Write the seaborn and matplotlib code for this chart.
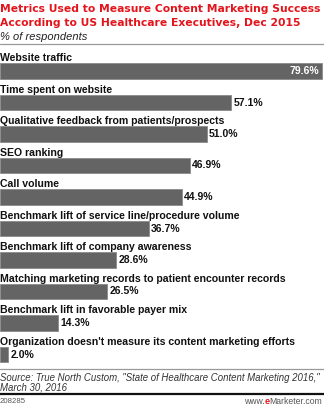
import matplotlib
matplotlib.use("Agg")
import matplotlib.pyplot as plt
import seaborn as sns
import pandas as pd
from matplotlib.lines import Line2D

categories = [
    "Website traffic",
    "Time spent on website",
    "Qualitative feedback from patients/prospects",
    "SEO ranking",
    "Call volume",
    "Benchmark lift of service line/procedure volume",
    "Benchmark lift of company awareness",
    "Matching marketing records to patient encounter records",
    "Benchmark lift in favorable payer mix",
    "Organization doesn't measure its content marketing efforts",
]
values = [79.6, 57.1, 51.0, 46.9, 44.9, 36.7, 28.6, 26.5, 14.3, 2.0]
value_labels = ["79.6%", "57.1%", "51.0%", "46.9%", "44.9%", "36.7%", "28.6%", "26.5%", "14.3%", "2.0%"]

df = pd.DataFrame({"metric": categories, "pct": values})

sns.set_theme(style="white")
plt.rcParams["font.family"] = ["Liberation Sans", "DejaVu Sans"]

W, H = 324, 407
fig = plt.figure(figsize=(W / 100, H / 100), dpi=100)

def fy(py):
    return 1 - py / H

ax_top, ax_bot = 55.25, 370.25
ax = fig.add_axes([0, fy(ax_bot), 1, (ax_bot - ax_top) / H])
sns.barplot(data=df, x="pct", y="metric", orient="h", color="#646464",
            width=0.49, saturation=1, ax=ax, edgecolor="#8a8a8a", linewidth=0.6)
ax.set_xlim(0, 80)
ax.set_ylim(9.5, -0.5)
ax.axis("off")

for i, (cat, v, lab) in enumerate(zip(categories, values, value_labels)):
    ax.text(0.0, i - 0.41, cat, ha="left", va="center", fontsize=7.6,
            fontweight="bold", color="#111111")
    if v > 70:
        ax.text(v - 0.8, i, lab, ha="right", va="center", fontsize=7.5,
                fontweight="bold", color="white")
    else:
        ax.text(v + 0.6, i, lab, ha="left", va="center", fontsize=7.5,
                fontweight="bold", color="#111111")

# Title and subtitle
fig.text(0.0, fy(9.5), "Metrics Used to Measure Content Marketing Success",
         ha="left", va="center", fontsize=7.75, fontweight="bold", color="#e4141b",
         family="DejaVu Sans")
fig.text(0.0, fy(23.5), "According to US Healthcare Executives, Dec 2015",
         ha="left", va="center", fontsize=7.75, fontweight="bold", color="#e4141b",
         family="DejaVu Sans")
fig.text(0.0, fy(37), "% of respondents", ha="left", va="center",
         fontsize=8, style="italic", color="#222222")

fig.add_artist(Line2D([0, 1], [fy(44), fy(44)], color="#999999", lw=0.9))
fig.add_artist(Line2D([0, 1], [fy(369), fy(369)], color="#999999", lw=0.9))
fig.add_artist(Line2D([0, 1], [fy(394), fy(394)], color="#111111", lw=1.6))

fig.text(0.0, fy(378), "Source: True North Custom, \"State of Healthcare Content Marketing 2016,\"",
         ha="left", va="center", fontsize=6.9, style="italic", color="#333333")
fig.text(0.0, fy(388), "March 30, 2016",
         ha="left", va="center", fontsize=6.9, style="italic", color="#333333")
fig.text(0.0, fy(401.5), "208285", ha="left", va="center", fontsize=5.6, color="#555555")

# www.eMarketer.com
t1 = fig.text(0.995, fy(401.5), "Marketer.com", ha="right", va="center", fontsize=6.2,
              color="#555555")
fig.canvas.draw()
bb = t1.get_window_extent()
x_e = bb.x0 / W
t2 = fig.text(x_e, fy(401.5), "e", ha="right", va="center", fontsize=6.6,
              fontweight="bold", color="#e4141b")
fig.canvas.draw()
bb2 = t2.get_window_extent()
fig.text(bb2.x0 / W, fy(401.5), "www.", ha="right", va="center", fontsize=6.2,
         color="#555555")

fig.savefig("out.png", dpi=100)
